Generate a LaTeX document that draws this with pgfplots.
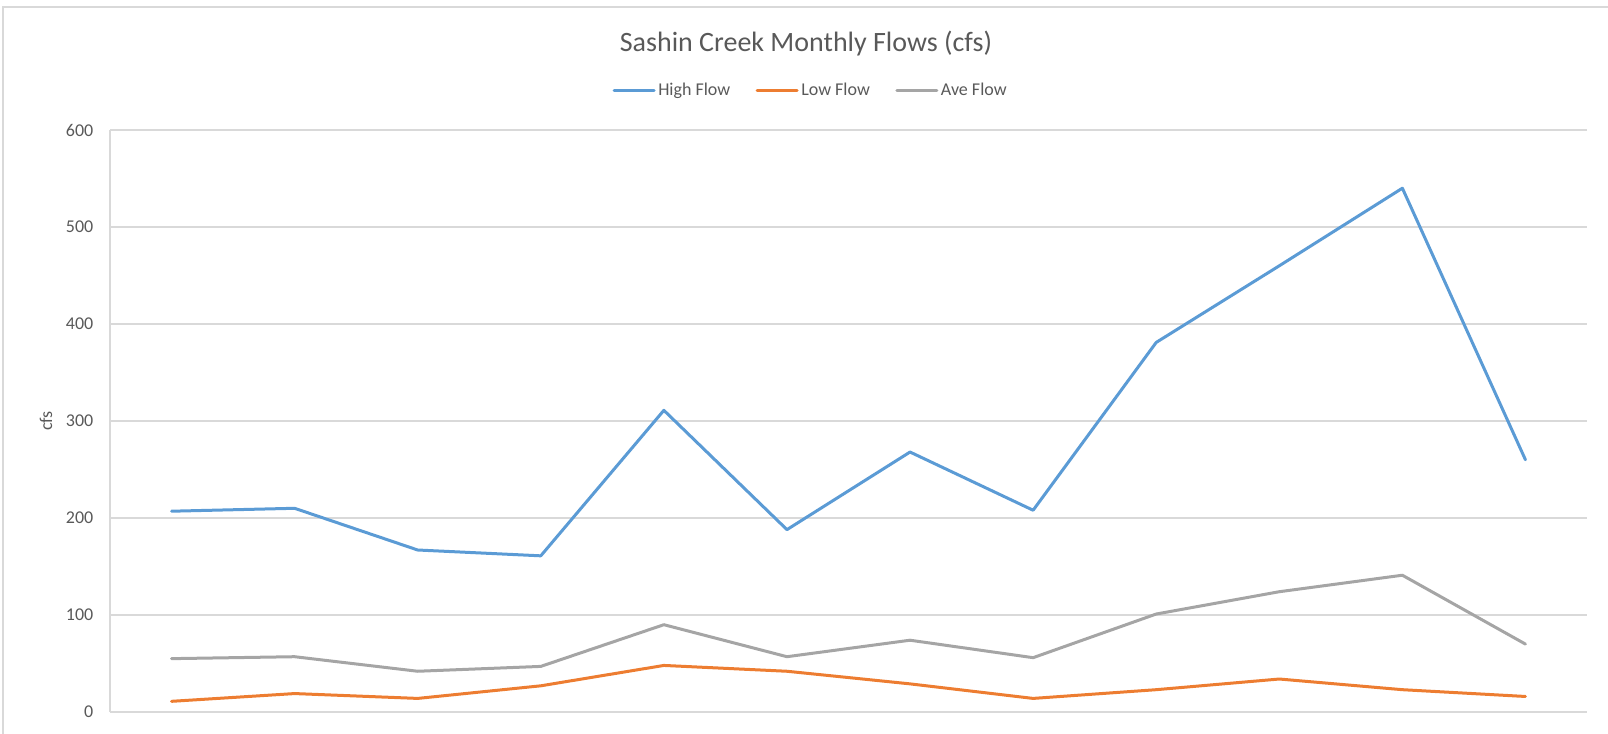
\documentclass[border=0pt]{standalone}
\usepackage{pgfplots}
\pgfplotsset{compat=1.18}
\usepackage{fontspec}
\setmainfont{Carlito}
\definecolor{cblue}{HTML}{5B9BD5}
\definecolor{corange}{HTML}{ED7D31}
\definecolor{cgray}{HTML}{A5A5A5}
\definecolor{ctext}{HTML}{595959}
\definecolor{cgrid}{HTML}{D9D9D9}
\begin{document}
\begin{tikzpicture}[x=1pt,y=1pt]
\useasboundingbox (0,0) rectangle (1206,550.5);
\draw[cgrid,line width=1pt] (2.25,-2) -- (2.25,545.25) -- (1210,545.25);
\node[text=ctext,font=\fontsize{21}{24}\selectfont] at (604.5,518) {Sashin Creek Monthly Flows (cfs)};
\begin{axis}[
  at={(82.5pt,16.5pt)}, anchor=origin,
  scale only axis, width=1107.75pt, height=436.5pt,
  xmin=0.5, xmax=12.5, ymin=0, ymax=600,
  ytick={0,100,...,600}, xtick=\empty,
  axis x line=bottom, axis y line=left,
  axis line style={cgrid,line width=0.9pt,-},
  ymajorgrids, grid style={cgrid,line width=0.9pt},
  major tick length=0pt,
  yticklabel style={text=ctext,font=\fontsize{13.5}{16}\selectfont,xshift=-9pt},
  /pgf/number format/assume math mode=true,
  ylabel={cfs},
  every axis y label/.style={at={(-48pt,0.5)},rotate=90,anchor=center,text=ctext,font=\fontsize{13.5}{16}\selectfont},
  clip=false,
  legend columns=3,
  legend style={at={(0.4746,1.0687)},anchor=center,draw=none,fill=none,
    font=\fontsize{13.5}{16}\selectfont,text=ctext,
    /tikz/every even column/.append style={column sep=17pt}},
  legend image code/.code={\draw[#1] (0pt,0pt) -- (30pt,0pt);},
  every axis plot/.append style={line width=2.25pt,line join=round,line cap=round},
]
\addplot[cblue] coordinates {(1,207) (2,210) (3,167) (4,161) (5,311) (6,188) (7,268) (8,208) (9,381) (10,460) (11,540) (12,260)};
\addlegendentry{High Flow}
\addplot[corange] coordinates {(1,11) (2,19) (3,14) (4,27) (5,48) (6,42) (7,29) (8,14) (9,23) (10,34) (11,23) (12,16)};
\addlegendentry{Low Flow}
\addplot[cgray] coordinates {(1,55) (2,57) (3,42) (4,47) (5,90) (6,57) (7,74) (8,56) (9,101) (10,124) (11,141) (12,70)};
\addlegendentry{Ave Flow}
\end{axis}
\end{tikzpicture}
\end{document}
